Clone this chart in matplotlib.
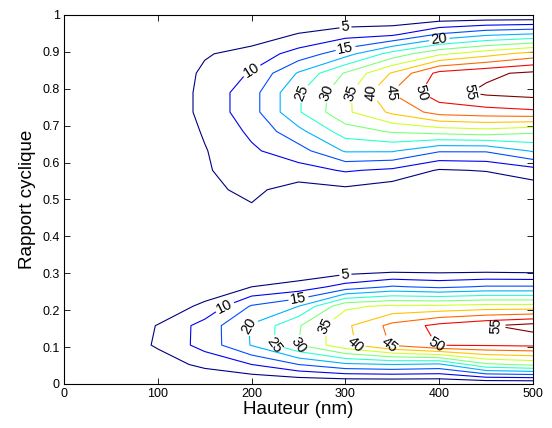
import numpy as np
import matplotlib
matplotlib.use("Agg")
import matplotlib.pyplot as plt
from matplotlib.colors import Normalize

# Grid coordinates
hauteur_nm = [0, 50, 100, 150, 200, 250, 300, 350, 400, 450, 500]
rapport = [0.0, 0.0526, 0.1053, 0.1579, 0.2105, 0.2632, 0.3158, 0.3684, 0.4211,
           0.4737, 0.5263, 0.5789, 0.6316, 0.6842, 0.7368, 0.7895, 0.8421,
           0.8947, 0.9474, 1.0]

# Estimated field values, one column per height (bottom -> top)
z_h000 = [0, 0, 0, 0, 0, 0, 0, 0, 0, 0, 0, 0, 0, 0, 0, 0, 0, 0, 0, 0]
z_h050 = [0, 1, 2, 1.5, 0.5, 0, 0, 0, 0, 0, 0, 0, 0, 0, 0.3, 0.3, 0, 0, 0, 0]
z_h100 = [0.5, 3, 5.5, 5.2, 2, 0.5, 0, 0, 0, 0.3, 0.5, 0.5, 0.5, 0.5, 0.5, 0.5, 0.5, 0.3, 0, 0]
z_h150 = [1, 6, 12, 12, 6, 2, 0.5, 0, 0.5, 2.5, 4, 4.5, 4.7, 5.5, 6.5, 6.5, 6, 4.5, 1, 0]
z_h200 = [0, 10, 20.3, 20.5, 15.5, 5, 0, 0, 0.5, 4.5, 6, 7.5, 9.2, 11, 13, 13, 10.5, 7, 2, 0]
z_h250 = [0, 15, 30, 29.5, 20, 7, 0.5, 0, 0, 0, 3, 8, 13, 18.5, 24.5, 24.5, 20.5, 12, 5.3, 0]
z_h300 = [0, 19, 38.5, 39, 34, 12, 1, 0, 0, 0, 4, 10.5, 20.5, 27.5, 34, 33.5, 30.5, 18, 8, 0]
z_h350 = [0, 20, 45.5, 46.5, 36, 15.5, 1.5, 0, 0, 0, 2, 9, 20.5, 30.5, 41, 45.2, 40.5, 27, 9, 0]
z_h400 = [0, 19, 50.3, 51.5, 36, 14, 1.5, 0, 0, 0, 0, 4.5, 15.5, 32, 47, 53, 51.5, 34, 15.5, 0]
z_h450 = [0, 29, 50.5, 54.5, 37, 15.5, 1.5, 0, 0, 0, 0, 5.3, 15.5, 33, 48, 56, 54, 38, 19, 0]
z_h500 = [0, 31, 51, 57, 37, 15.5, 1, 0, 0, 0, 2, 8, 20.5, 31, 49, 57, 56, 42, 20.5, 0]

niveaux = [5, 10, 15, 20, 25, 30, 35, 40, 45, 50, 55]
xticks = [0, 100, 200, 300, 400, 500]
xticklabels = ["0", "100", "200", "300", "400", "500"]
yticks = [0, 0.1, 0.2, 0.3, 0.4, 0.5, 0.6, 0.7, 0.8, 0.9, 1.0]
yticklabels = ["0", "0.1", "0.2", "0.3", "0.4", "0.5", "0.6", "0.7", "0.8", "0.9", "1"]

Z = np.column_stack([z_h000, z_h050, z_h100, z_h150, z_h200, z_h250,
                     z_h300, z_h350, z_h400, z_h450, z_h500])
X, Y = np.meshgrid(hauteur_nm, rapport)

plt.rcParams["font.family"] = ["Liberation Sans", "DejaVu Sans"]

fig = plt.figure(figsize=(5.52, 4.28), dpi=100)
ax = fig.add_axes([0.116, 0.103, 0.8496, 0.862])

cs = ax.contour(X, Y, Z, levels=niveaux, cmap="jet",
                norm=Normalize(vmin=min(niveaux), vmax=max(niveaux)),
                linewidths=0.8)
ax.clabel(cs, fmt="%d", fontsize=10.5, colors="black", inline=True,
          inline_spacing=2)

ax.set_xlim(0, 500)
ax.set_ylim(0, 1)
ax.set_xticks(xticks)
ax.set_xticklabels(xticklabels)
ax.set_yticks(yticks)
ax.set_yticklabels(yticklabels)
ax.tick_params(direction="in", top=True, right=True, length=4, width=0.6,
               labelsize=9, pad=3)
for s in ax.spines.values():
    s.set_linewidth(0.8)

ax.set_xlabel("Hauteur (nm)", fontsize=13.5, labelpad=1)
ax.set_ylabel("Rapport cyclique", fontsize=13.5, labelpad=5)

fig.savefig("out.png", dpi=100)
